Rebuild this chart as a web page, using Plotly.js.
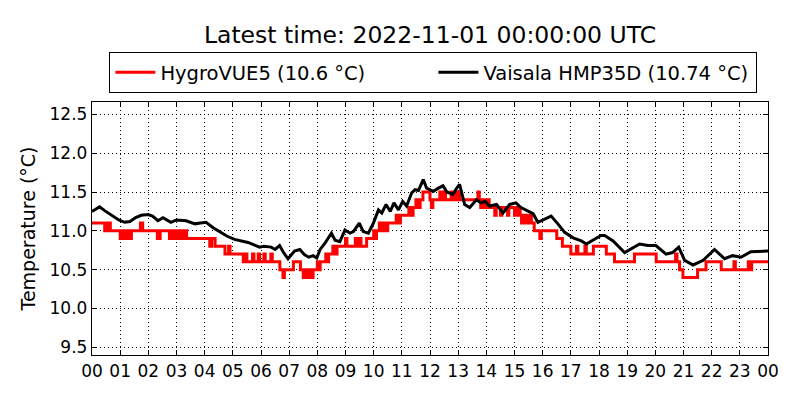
<!DOCTYPE html>
<html>
<head>
<meta charset="utf-8">
<script src="https://cdn.plot.ly/plotly-3.0.1.min.js"></script>
<style>
  body { margin: 0; background: #fff; }
  #chart { width: 800px; height: 400px; }
</style>
</head>
<body>
<div id="chart"></div>
<script>
// hours since 00 UTC, step changes of the HygroVUE5 (0.1 degree resolution)
const hygroT = [0, 0.45, 0.5, 0.55, 0.6, 0.65, 1.0, 1.05, 1.1, 1.2, 1.25, 1.32, 1.35, 1.4, 1.72, 1.8,
  2.32, 2.42, 2.75, 2.85, 2.95, 3.05, 3.1, 3.2, 3.25, 3.3, 3.36, 4.18, 4.25, 4.37, 4.72, 4.85, 4.9,
  5.37, 5.45, 5.5, 5.7, 5.75, 5.9, 5.95, 6.1, 6.15, 6.35, 6.4, 6.67, 6.78, 6.83, 7.15, 7.4, 7.5, 7.55,
  7.65, 7.72, 7.8, 7.85, 8.0, 8.05, 8.1, 8.3, 8.35, 8.4, 8.55, 8.6, 8.7, 9.0, 9.05, 9.35, 9.4, 9.5,
  9.55, 9.75, 10.0, 10.05, 10.1, 10.2, 10.3, 10.35, 10.45, 10.5, 10.8, 10.9, 10.95, 11.25, 11.35,
  11.4, 11.5, 11.6, 11.65, 11.75, 12.0, 12.05, 12.1, 12.35, 12.4, 12.5, 12.55, 12.75, 12.85, 12.95,
  13.05, 13.7, 13.75, 13.8, 13.85, 13.95, 14.0, 14.1, 14.3, 14.35, 14.5, 14.55, 14.75, 14.8, 15.0,
  15.1, 15.2, 15.25, 15.35, 15.45, 15.55, 15.6, 15.7, 15.9, 15.95, 16.5, 16.7, 17.0, 17.2, 17.25,
  17.5, 17.55, 17.8, 18.26, 18.55, 19.26, 20.03, 20.72, 20.77, 20.86, 20.98, 21.5, 21.8, 22.34,
  22.79, 22.84, 23.3, 23.35, 23.42, 24.0]
const hygroV = [11.1, 11.0, 11.1, 11.0, 11.1, 11.0, 10.9, 11.0, 10.9, 11.0, 10.9, 11.0, 10.9, 11.0, 11.1, 11.0,
  10.9, 11.0, 10.9, 11.0, 10.9, 11.0, 10.9, 11.0, 10.9, 11.0, 10.9, 10.8, 10.9, 10.8, 10.7, 10.8, 10.7,
  10.6, 10.7, 10.6, 10.7, 10.6, 10.7, 10.6, 10.7, 10.6, 10.7, 10.6, 10.5, 10.4, 10.5, 10.6, 10.5, 10.4, 10.5,
  10.4, 10.5, 10.4, 10.5, 10.6, 10.5, 10.6, 10.7, 10.6, 10.7, 10.8, 10.7, 10.8, 10.9, 10.8, 10.9, 10.8, 10.9,
  10.8, 10.9, 11.0, 10.9, 11.0, 11.1, 11.0, 11.1, 11.0, 11.1, 11.2, 11.1, 11.2, 11.3, 11.2,
  11.3, 11.4, 11.3, 11.4, 11.5, 11.4, 11.3, 11.4, 11.5, 11.4, 11.5, 11.4, 11.5, 11.4, 11.5,
  11.4, 11.5, 11.4, 11.3, 11.4, 11.3, 11.4, 11.3, 11.2, 11.3, 11.2, 11.3, 11.2, 11.3, 11.2,
  11.3, 11.2, 11.1, 11.2, 11.1, 11.2, 11.1, 11.0, 10.9, 11.0, 10.9, 10.8, 10.7, 10.8, 10.7,
  10.8, 10.7, 10.8, 10.7, 10.6, 10.7, 10.6, 10.7, 10.6, 10.5, 10.4, 10.5, 10.6, 10.5,
  10.6, 10.5, 10.6, 10.5, 10.6, 10.6]

// Vaisala HMP35D
const vaisalaT = [0, 0.15, 0.27, 0.45, 0.7, 0.95, 1.16, 1.35, 1.55, 1.75, 1.99, 2.15, 2.34, 2.52, 2.8, 3.0,
  3.34, 3.66, 3.85, 4.05, 4.3, 4.6, 4.8, 5.06, 5.3, 5.54, 5.75, 5.95, 6.1, 6.36, 6.5, 6.66, 6.8, 6.96,
  7.19, 7.38, 7.55, 7.7, 7.85, 7.98, 8.1, 8.27, 8.5, 8.63, 8.8, 8.98, 9.16, 9.28, 9.49, 9.63, 9.81,
  9.99, 10.17, 10.29, 10.44, 10.59, 10.72, 10.88, 11.03, 11.17, 11.35, 11.47, 11.59, 11.76, 11.88,
  12.12, 12.3, 12.46, 12.6, 12.81, 12.95, 13.05, 13.23, 13.41, 13.65,
  13.81, 13.95, 14.12, 14.36, 14.59, 14.83, 15.05, 15.23, 15.47, 15.66, 15.83, 16.07, 16.3, 16.54,
  16.78, 17.08, 17.37, 17.55, 17.84, 18.07, 18.2, 18.5, 18.91, 19.15, 19.44, 19.74, 20.02, 20.38,
  20.61, 20.83, 21.04, 21.34, 21.7, 22.1, 22.46, 22.74, 23.04, 23.39, 23.86, 24.0]
const vaisalaV = [11.25, 11.28, 11.31, 11.26, 11.2, 11.14, 11.11, 11.12, 11.17, 11.2, 11.21, 11.19, 11.13, 11.17, 11.11, 11.14,
  11.13, 11.09, 11.1, 11.11, 11.04, 10.98, 10.93, 10.89, 10.87, 10.85, 10.82, 10.79, 10.8, 10.79, 10.76, 10.81, 10.72, 10.64,
  10.74, 10.76, 10.69, 10.66, 10.68, 10.65, 10.76, 10.84, 10.97, 10.88, 10.86, 11.01, 10.97, 10.99, 11.1, 10.99, 10.97,
  11.1, 11.27, 11.23, 11.34, 11.25, 11.36, 11.27, 11.38, 11.32, 11.49, 11.53, 11.52, 11.66, 11.55,
  11.51, 11.55, 11.58, 11.5, 11.47, 11.55, 11.6, 11.34, 11.3, 11.4,
  11.36, 11.38, 11.32, 11.34, 11.23, 11.34, 11.36, 11.3, 11.26, 11.22, 11.11, 11.15, 11.19, 11.09,
  10.98, 10.91, 10.87, 10.83, 10.89, 10.94, 10.94, 10.87, 10.72, 10.77, 10.83, 10.81, 10.81, 10.7,
  10.72, 10.79, 10.62, 10.56, 10.62, 10.76, 10.64, 10.68, 10.66, 10.73, 10.74, 10.74]

const hourTicks = [0, 1, 2, 3, 4, 5, 6, 7, 8, 9, 10, 11, 12, 13, 14, 15, 16, 17, 18, 19, 20, 21, 22, 23, 24]
const hourLabels = ['00', '01', '02', '03', '04', '05', '06', '07', '08', '09', '10', '11', '12',
  '13', '14', '15', '16', '17', '18', '19', '20', '21', '22', '23', '00']
const tempTicks = [9.5, 10.0, 10.5, 11.0, 11.5, 12.0, 12.5]

const font = 'DejaVu Sans, sans-serif'

var data = [
    {
        x: hygroT,
        y: hygroV,
        name: 'HygroVUE5 (10.6 °C)',
        mode: 'lines',
        line: { color: '#ff0000', width: 3, shape: 'hv' },
    },
    {
        x: vaisalaT,
        y: vaisalaV,
        name: 'Vaisala HMP35D (10.74 °C)',
        mode: 'lines',
        line: { color: '#000000', width: 3 },
    },
]

var axisStyle = {
    showline: true,
    linecolor: '#000',
    linewidth: 1.2,
    mirror: 'ticks',
    ticks: 'inside',
    ticklen: 5,
    tickcolor: '#000',
    showgrid: true,
    gridcolor: '#000',
    gridwidth: 1,
    griddash: '1px,3px',
    zeroline: false,
    tickfont: { family: font, size: 17, color: '#000' },
}

var layout = {
    width: 800,
    height: 400,
    margin: { l: 92, r: 32, t: 102, b: 45 },
    paper_bgcolor: '#fff',
    plot_bgcolor: '#fff',
    title: {
        text: 'Latest time: 2022-11-01 00:00:00 UTC',
        font: { family: font, size: 23.5, color: '#000' },
        x: 0.5375, xanchor: 'center',
        y: 0.913, yanchor: 'middle',
    },
    showlegend: true,
    legend: {
        orientation: 'h',
        x: 0.505, xanchor: 'center',
        y: 1.1166, yanchor: 'middle',
        bordercolor: '#000',
        borderwidth: 1,
        font: { family: font, size: 19.5, color: '#000' },
        itemwidth: 40,
        entrywidth: 268,
    },
    xaxis: Object.assign({}, axisStyle, {
        range: [0, 24],
        tickmode: 'array',
        tickvals: hourTicks,
        ticktext: hourLabels,
    }),
    yaxis: Object.assign({}, axisStyle, {
        range: [9.4, 12.66],
        tickmode: 'array',
        tickvals: tempTicks,
        ticktext: tempTicks.map(v => v.toFixed(1)),
        title: { text: 'Temperature (°C)', font: { family: font, size: 19, color: '#000' }, standoff: 8 },
    }),
}

Plotly.newPlot('chart', data, layout, { staticPlot: true, displayModeBar: false })
</script>
</body>
</html>
